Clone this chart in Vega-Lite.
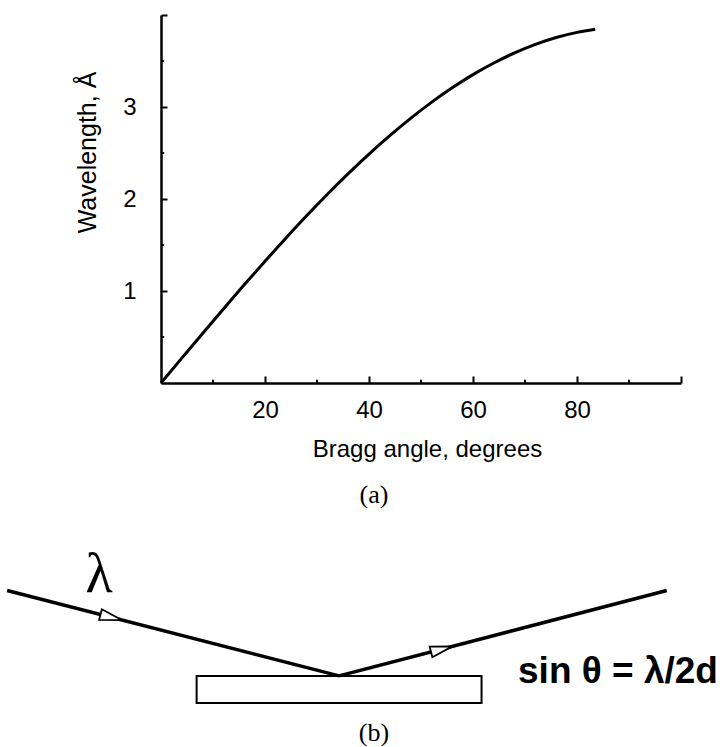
{
  "$schema": "https://vega.github.io/schema/vega-lite/v6.json",
  "background": "white",
  "padding": {"left": 0, "top": 3, "right": 0, "bottom": 0},
  "bounds": "flush",
  "spacing": 108,
  "datasets": {
    "bragg": [
      {"angle": 0, "lambda": 0},
      {"angle": 4, "lambda": 0.270},
      {"angle": 8, "lambda": 0.539},
      {"angle": 12, "lambda": 0.805},
      {"angle": 16, "lambda": 1.067},
      {"angle": 20, "lambda": 1.324},
      {"angle": 24, "lambda": 1.574},
      {"angle": 28, "lambda": 1.817},
      {"angle": 32, "lambda": 2.051},
      {"angle": 36, "lambda": 2.275},
      {"angle": 40, "lambda": 2.488},
      {"angle": 44, "lambda": 2.688},
      {"angle": 48, "lambda": 2.876},
      {"angle": 52, "lambda": 3.050},
      {"angle": 56, "lambda": 3.208},
      {"angle": 60, "lambda": 3.352},
      {"angle": 64, "lambda": 3.478},
      {"angle": 68, "lambda": 3.588},
      {"angle": 72, "lambda": 3.681},
      {"angle": 76, "lambda": 3.755},
      {"angle": 80, "lambda": 3.811},
      {"angle": 83.5, "lambda": 3.845}
    ],
    "minor_x": [{"angle": 10}, {"angle": 30}, {"angle": 50}, {"angle": 70}, {"angle": 90}],
    "minor_y": [{"lambda": 0.5}, {"lambda": 1.5}, {"lambda": 2.5}, {"lambda": 3.5}],
    "rays": [
      {"ray": "incident", "x": -2.33, "y": 0.60},
      {"ray": "incident", "x": 0, "y": 0},
      {"ray": "reflected", "x": 0, "y": 0},
      {"ray": "reflected", "x": 2.30, "y": 0.60}
    ],
    "arrows": [
      {"ray": "incident", "x": -1.60, "y": 0.412},
      {"ray": "reflected", "x": 0.72, "y": 0.188}
    ],
    "crystal": [{"x1": -1.0, "x2": 1.0, "y1": 0, "y2": -0.19}],
    "symbols": [{"label": "λ", "x": -1.685, "y": 0.707}],
    "equation": [{"label": "sin θ = λ/2d", "x": 1.256, "y": -0.052}],
    "captions": [
      {"label": "(a)", "x": 0.245, "y": 1.27},
      {"label": "(b)", "x": 0.245, "y": -0.404}
    ]
  },
  "vconcat": [
    {
      "width": 520,
      "height": 368,
      "layer": [
        {
          "data": {"name": "bragg"},
          "mark": {"type": "line", "color": "black", "strokeWidth": 3, "interpolate": "monotone"},
          "encoding": {
            "x": {
              "field": "angle", "type": "quantitative",
              "scale": {"domain": [0, 100], "nice": false},
              "axis": {
                "title": "Bragg angle, degrees",
                "values": [20, 40, 60, 80, 100],
                "format": "d",
                "labelExpr": "datum.value < 100 ? datum.label : ''",
                "tickSize": -7,
                "labelPadding": 22,
                "titleFontSize": 24,
                "titleX": 266,
                "titleY": 73,
                "titleBaseline": "alphabetic"
              }
            },
            "y": {
              "field": "lambda", "type": "quantitative",
              "scale": {"domain": [0, 4], "nice": false},
              "axis": {
                "title": "Wavelength, Å",
                "values": [1, 2, 3, 4],
                "format": "d",
                "labelExpr": "datum.value < 4 ? datum.label : ''",
                "tickSize": -6,
                "labelPadding": 31,
                "titleAngle": -90,
                "titleX": -66,
                "titleY": 137,
                "titleBaseline": "alphabetic"
              }
            }
          }
        },
        {
          "data": {"name": "minor_x"},
          "mark": {"type": "rule", "color": "black", "strokeWidth": 2},
          "encoding": {
            "x": {"field": "angle", "type": "quantitative"},
            "y": {"datum": 0, "type": "quantitative"},
            "y2": {"datum": 0.035}
          }
        },
        {
          "data": {"name": "minor_y"},
          "mark": {"type": "rule", "color": "black", "strokeWidth": 2},
          "encoding": {
            "y": {"field": "lambda", "type": "quantitative"},
            "x": {"datum": 0, "type": "quantitative"},
            "x2": {"datum": 0.6}
          }
        }
      ]
    },
    {
      "width": 520,
      "height": 256,
      "encoding": {
        "x": {"field": "x", "type": "quantitative", "scale": {"domain": [-1.25, 2.4], "nice": false, "zero": false}, "axis": null},
        "y": {"field": "y", "type": "quantitative", "scale": {"domain": [-0.5, 1.3], "nice": false, "zero": false}, "axis": null}
      },
      "layer": [
        {
          "data": {"name": "crystal"},
          "mark": {"type": "rect", "fill": "white", "stroke": "black", "strokeWidth": 2},
          "encoding": {
            "x": {"field": "x1", "type": "quantitative"},
            "x2": {"field": "x2"},
            "y": {"field": "y1", "type": "quantitative"},
            "y2": {"field": "y2"}
          }
        },
        {
          "data": {"name": "rays"},
          "mark": {"type": "line", "color": "black", "strokeWidth": 3.5},
          "encoding": {"detail": {"field": "ray"}}
        },
        {
          "data": {"name": "arrows"},
          "transform": [{"filter": "datum.ray === 'incident'"}],
          "mark": {"type": "point", "shape": "M1,0L-1,-0.5L-1,0.5Z", "size": 484, "filled": true, "fill": "white", "stroke": "black", "strokeWidth": 1.8, "opacity": 1, "angle": 14.4}
        },
        {
          "data": {"name": "arrows"},
          "transform": [{"filter": "datum.ray === 'reflected'"}],
          "mark": {"type": "point", "shape": "M1,0L-1,-0.5L-1,0.5Z", "size": 484, "filled": true, "fill": "white", "stroke": "black", "strokeWidth": 1.8, "opacity": 1, "angle": 345.6}
        },
        {
          "data": {"name": "symbols"},
          "mark": {"type": "text", "font": "Liberation Serif", "fontSize": 56, "align": "center", "baseline": "middle", "color": "black"},
          "encoding": {"text": {"field": "label"}}
        },
        {
          "data": {"name": "equation"},
          "mark": {"type": "text", "font": "Liberation Sans", "fontSize": 37, "fontWeight": "bold", "align": "left", "baseline": "alphabetic", "color": "black"},
          "encoding": {"text": {"field": "label"}}
        },
        {
          "data": {"name": "captions"},
          "mark": {"type": "text", "font": "Liberation Serif", "fontSize": 26, "align": "center", "baseline": "middle", "color": "black"},
          "encoding": {"text": {"field": "label"}}
        }
      ]
    }
  ],
  "config": {
    "view": {"stroke": null},
    "axis": {
      "grid": false,
      "domainColor": "black",
      "domainWidth": 2.5,
      "tickColor": "black",
      "tickWidth": 2,
      "labelColor": "black",
      "labelFont": "Liberation Sans",
      "labelFontSize": 24,
      "labelOverlap": false,
      "labelFlush": false,
      "titleColor": "black",
      "titleFont": "Liberation Sans",
      "titleFontSize": 25,
      "titleFontWeight": "normal"
    }
  }
}
